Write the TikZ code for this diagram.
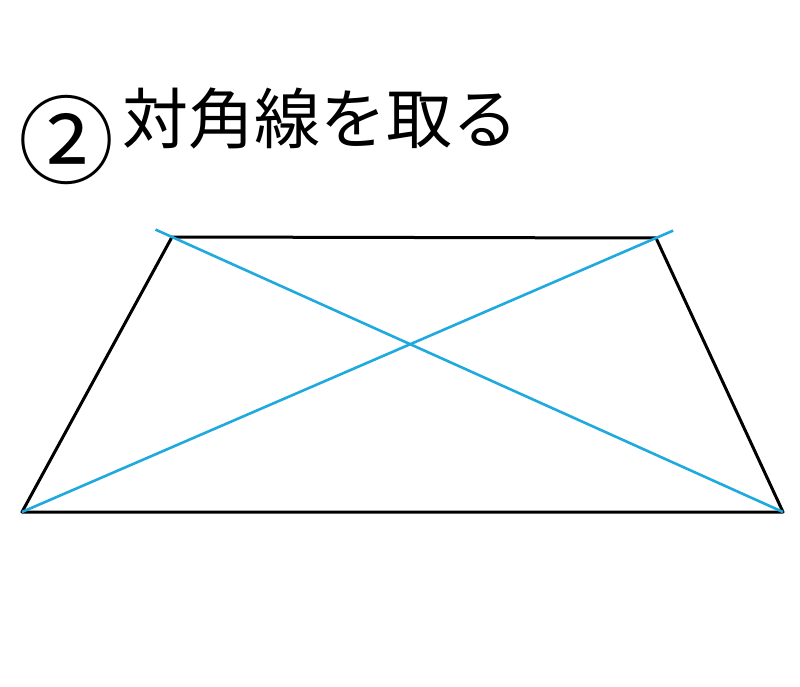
\documentclass[tikz,border=0pt]{standalone}
\usepackage{fontspec}
\newfontfamily\cjk{Noto Sans CJK JP}
\usetikzlibrary{calc}
\newcommand{\clrdiag}{diagblue}
\definecolor{diagblue}{RGB}{30,170,222}

\begin{document}
\begin{tikzpicture}[x=1pt, y=-1pt]
    \useasboundingbox (0,0) rectangle (800,687);
    % corners of the trapezoid
    \coordinate (cornertl) at (172,237);
    \coordinate (cornertr) at (656,238);
    \coordinate (cornerbr) at (783,512);
    \coordinate (cornerbl) at (22,512);
    \draw[line width=3pt, line join=round] (cornertl) -- (cornertr) -- (cornerbr) -- (cornerbl) -- cycle;

    % diagonals, a little past the top corners
    \coordinate (diagone) at ($(cornertl)!-0.027!(cornerbr)$);
    \coordinate (diagtwo) at ($(cornerbl)!1.027!(cornertr)$);
    \draw[line width=2.6pt, \clrdiag] (diagone) -- (cornerbr);
    \draw[line width=2.6pt, \clrdiag] (cornerbl) -- (diagtwo);

    \node[inner sep=0pt, font=\cjk\fontsize{96}{96}\selectfont] (stepnum) at (66,140) {②};
    \node[anchor=west, inner sep=0pt, font=\cjk\fontsize{66}{66}\selectfont] (title) at (122,118) {対角線を取る};
\end{tikzpicture}
\end{document}
